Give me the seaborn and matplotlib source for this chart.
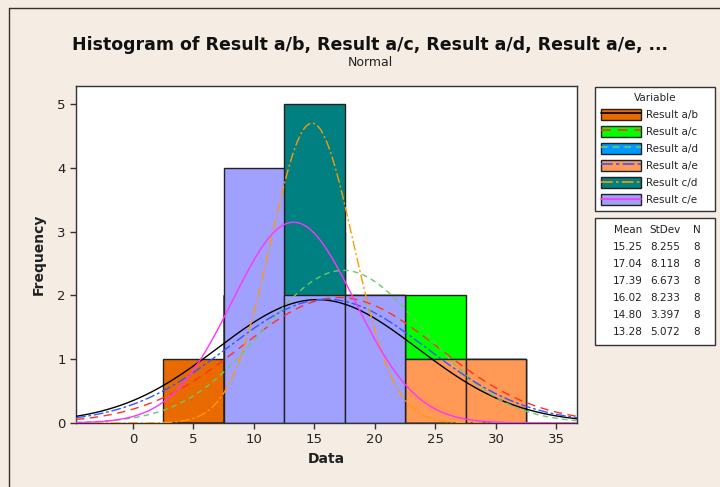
import numpy as np
import pandas as pd
import matplotlib
matplotlib.use("Agg")
import matplotlib.pyplot as plt
import seaborn as sns
from matplotlib.patches import Patch, Rectangle
from matplotlib.lines import Line2D
from matplotlib.legend_handler import HandlerTuple

# ---------------- data ----------------
variables = ["Result a/b", "Result a/c", "Result a/d", "Result a/e", "Result c/d", "Result c/e"]
bin_centers = [5, 10, 15, 20, 25, 30]
counts_ab = [1, 2, 2, 1, 1, 1]
counts_ac = [0, 2, 2, 2, 2, 0]
counts_ad = [0, 2, 2, 2, 1, 1]
counts_ae = [0, 2, 3, 1, 1, 1]
counts_cd = [0, 2, 5, 1, 0, 0]
counts_ce = [0, 4, 2, 2, 0, 0]
means = [15.25, 17.04, 17.39, 16.02, 14.80, 13.28]
stdevs = [8.255, 8.118, 6.673, 8.233, 3.397, 5.072]
ns = [8, 8, 8, 8, 8, 8]
x_ticks = [0, 5, 10, 15, 20, 25, 30, 35]
y_ticks = [0, 1, 2, 3, 4, 5]

all_counts = [counts_ab, counts_ac, counts_ad, counts_ae, counts_cd, counts_ce]

# ---------------- styles ----------------
fill_colors = ["#E86A00", "#00FF00", "#0099FF", "#FF9955", "#008080", "#A0A0FF"]
line_colors = ["#000000", "#FF3322", "#66CC66", "#3355FF", "#FF9900", "#FF33FF"]
line_dashes = [None, (6, 4), (4, 3), (7, 2, 2, 2), (7, 2, 1.5, 2), None]

bg = "#F5EDE3"
binwidth = 5

sns.set_style("white")
plt.rcParams['font.family'] = ['DejaVu Sans']

fig = plt.figure(figsize=(7.2, 4.87), dpi=100, facecolor=bg)
ax = fig.add_axes([0.1056, 0.1314, 0.6958, 0.692])
ax.set_facecolor("white")

for i, var in enumerate(variables):
    df = pd.DataFrame({"Data": bin_centers, "w": all_counts[i]})
    sns.histplot(data=df, x="Data", weights="w", binwidth=binwidth,
                 binrange=(min(bin_centers) - binwidth / 2, max(bin_centers) + binwidth / 2),
                 ax=ax, color=fill_colors[i], alpha=1, edgecolor="#222222",
                 linewidth=1.0, zorder=2 + i * 0.01)

xlo, xhi = -4.7, 36.7
xs = np.linspace(xlo, xhi, 400)
for i in range(len(variables)):
    ys = ns[i] * binwidth * np.exp(-0.5 * ((xs - means[i]) / stdevs[i]) ** 2) / (stdevs[i] * np.sqrt(2 * np.pi))
    ln, = ax.plot(xs, ys, color=line_colors[i], lw=1.0, zorder=5)
    if line_dashes[i] is not None:
        ln.set_dashes(line_dashes[i])

ax.set_xlim(xlo, xhi)
ax.set_ylim(0, 5.28)
ax.set_xticks(x_ticks)
ax.set_yticks(y_ticks)
ax.tick_params(axis="both", direction="out", length=4, width=1, color="#333333",
               labelsize=9.5, labelcolor="#222222", left=True, bottom=True)
for s in ax.spines.values():
    s.set_color("#333333")
    s.set_linewidth(1.0)
ax.set_xlabel("Data", fontsize=10, fontweight="bold", color="#222222", labelpad=4)
ax.set_ylabel("Frequency", fontsize=10, fontweight="bold", color="#222222", labelpad=8)

fig.text(0.514, 0.908, "Histogram of Result a/b, Result a/c, Result a/d, Result a/e, ...",
         ha="center", va="center", fontsize=12.5, fontweight="bold", color="#111111")
fig.text(0.514, 0.871, "Normal", ha="center", va="center", fontsize=9, color="#222222")

# outer graph border (left and top)
fig.add_artist(Line2D([8.5 / 720, 8.5 / 720], [0, 1 - 7.5 / 487], transform=fig.transFigure,
                      color="#333333", lw=1.0))
fig.add_artist(Line2D([8.5 / 720, 1], [1 - 7.5 / 487, 1 - 7.5 / 487], transform=fig.transFigure,
                      color="#333333", lw=1.0))

# legend
handles = []
for i in range(len(variables)):
    p = Patch(facecolor=fill_colors[i], edgecolor="#222222", linewidth=1.0)
    l = Line2D([0], [0], color=line_colors[i], lw=1.2)
    if line_dashes[i] is not None:
        l.set_dashes(line_dashes[i])
    handles.append((p, l))
leg = fig.legend(handles, variables, title="Variable",
                 handler_map={tuple: HandlerTuple(ndivide=1)},
                 loc="upper left", bbox_to_anchor=(595 / 720, 1 - 87 / 487, 120 / 720, 0.0),
                 mode="expand",
                 fontsize=7.5, title_fontsize=7.5, frameon=True, fancybox=False,
                 edgecolor="#333333", facecolor="white", framealpha=1,
                 handlelength=3.9, handleheight=1.25, handletextpad=0.45,
                 labelspacing=0.58, borderpad=0.55, borderaxespad=0)
leg.get_frame().set_linewidth(1.0)

# stats box
bx0, by0, bw, bh = 595 / 720, 1 - 345 / 487, 120 / 720, 127 / 487
fig.add_artist(Rectangle((bx0, by0), bw, bh, transform=fig.transFigure,
                         facecolor="white", edgecolor="#333333", lw=1.0))
col_x = [628 / 720, 665 / 720, 697 / 720]
row0 = 1 - 230 / 487
dy = 17.0 / 487
fig.text(col_x[0], row0, "Mean", ha="center", va="center", fontsize=7.5, color="#222222")
fig.text(col_x[1], row0, "StDev", ha="center", va="center", fontsize=7.5, color="#222222")
fig.text(col_x[2], row0, "N", ha="center", va="center", fontsize=7.5, color="#222222")
for i in range(len(variables)):
    y = row0 - (i + 1) * dy
    fig.text(col_x[0], y, f"{means[i]:.2f}", ha="center", va="center", fontsize=7.5, color="#222222")
    fig.text(col_x[1], y, f"{stdevs[i]:.3f}", ha="center", va="center", fontsize=7.5, color="#222222")
    fig.text(col_x[2], y, f"{ns[i]}", ha="center", va="center", fontsize=7.5, color="#222222")

fig.savefig("out.png", dpi=100, facecolor=bg)
